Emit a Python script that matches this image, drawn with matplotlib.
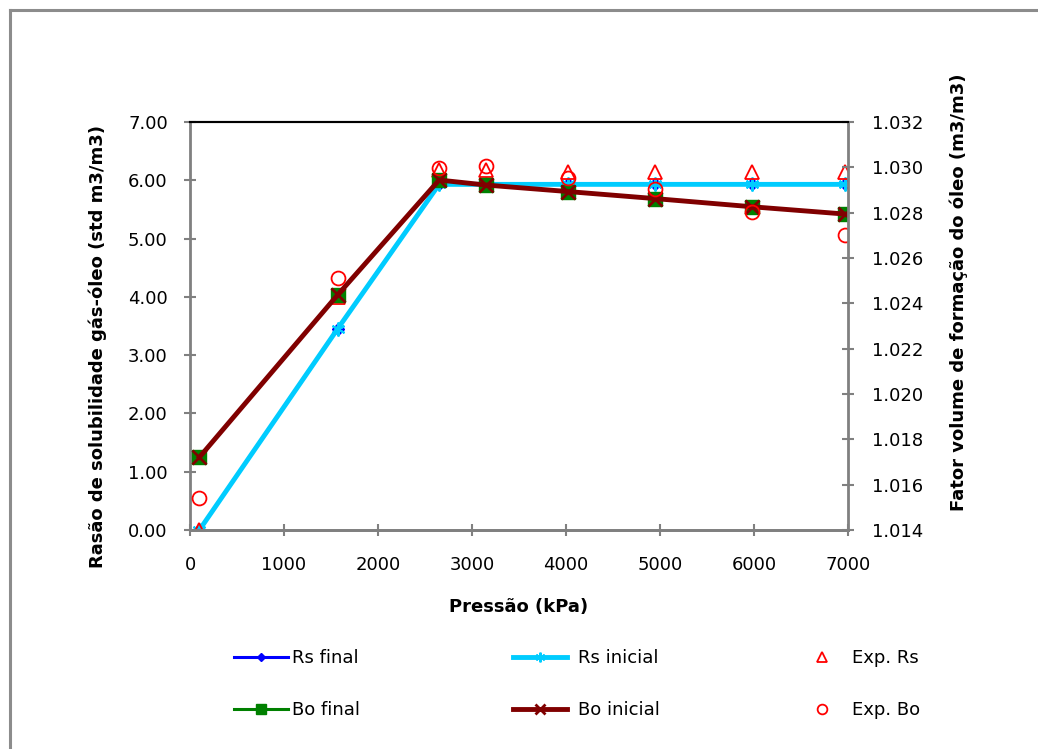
import matplotlib
matplotlib.use("Agg")
import matplotlib.pyplot as plt
from matplotlib.lines import Line2D
from matplotlib.ticker import FormatStrFormatter, MultipleLocator

plt.rcParams['font.family'] = ['DejaVu Sans']
plt.rcParams['font.size'] = 13

# pressure (kPa)
pressao = [100, 1570, 2650, 3145, 4025, 4950, 5980, 6965]

# solubility ratio (std m3/m3)
rs_final = [0.00, 3.45, 5.93, 5.93, 5.93, 5.93, 5.93, 5.93]
rs_inicial = [0.00, 3.45, 5.93, 5.93, 5.93, 5.93, 5.93, 5.93]
exp_rs = [0.00, 4.00, 6.17, 6.17, 6.15, 6.15, 6.15, 6.15]

# oil formation volume factor (m3/m3)
bo_final = [1.01721, 1.02437, 1.02944, 1.02922, 1.02893, 1.02862, 1.02826, 1.02794]
bo_inicial = [1.01721, 1.02437, 1.02944, 1.02922, 1.02893, 1.02862, 1.02826, 1.02794]
exp_bo = [1.01543, 1.02510, 1.02996, 1.03007, 1.02952, 1.02903, 1.02803, 1.02702]

W, H = 1038, 749
fig = plt.figure(figsize=(W / 100, H / 100), dpi=100)

# gray chart-area border (left and top visible)
fig.add_artist(Line2D([9.5 / W, 9.5 / W], [0, 1 - 9.5 / H], transform=fig.transFigure,
                      color='#8c8c8c', lw=2.2))
fig.add_artist(Line2D([9.5 / W, 1], [1 - 9.5 / H, 1 - 9.5 / H], transform=fig.transFigure,
                      color='#8c8c8c', lw=2.2))

ax = fig.add_axes([190 / W, 1 - 530 / H, 658 / W, 408 / H])
ax2 = ax.twinx()

l_rsf, = ax.plot(pressao, rs_final, color='#0000ff', lw=2.2, marker='D', ms=6,
                 label='Rs final', zorder=2)
l_rsi, = ax.plot(pressao, rs_inicial, color='#00ccff', lw=3.5, marker=(6, 2, 0), ms=10,
                 mew=1.5, label='Rs inicial', zorder=2.1)
l_exrs, = ax.plot(pressao, exp_rs, ls='none', marker='^', ms=10, mfc='none', mec='#ff0000',
                  mew=1.3, label='Exp. Rs', zorder=2.2)

l_bof, = ax2.plot(pressao, bo_final, color='#008000', lw=2.2, marker='s', ms=10,
                  label='Bo final', zorder=2)
l_boi, = ax2.plot(pressao, bo_inicial, color='#800000', lw=3.5, marker='x', ms=10, mew=2,
                  label='Bo inicial', zorder=2.1)
l_exbo, = ax2.plot(pressao, exp_bo, ls='none', marker='o', ms=10, mfc='none', mec='#ff0000',
                   mew=1.3, label='Exp. Bo', zorder=2.2)

ax.set_xlim(0, 7000)
ax.set_ylim(0, 7)
ax2.set_ylim(1.014, 1.032)
ax.xaxis.set_major_locator(MultipleLocator(1000))
ax.yaxis.set_major_locator(MultipleLocator(1))
ax2.yaxis.set_major_locator(MultipleLocator(0.002))
ax.yaxis.set_major_formatter(FormatStrFormatter('%.2f'))
ax2.yaxis.set_major_formatter(FormatStrFormatter('%.3f'))

for a in (ax, ax2):
    for s in a.spines.values():
        s.set_color('#808080')
        s.set_linewidth(2)
    a.spines['top'].set_color('black')
    a.spines['top'].set_linewidth(1.5)
    a.tick_params(direction='inout', length=8, width=1.5, color='#808080', labelsize=13,
                  labelcolor='black')
ax2.spines['left'].set_visible(False)
ax.spines['right'].set_visible(False)
ax.tick_params(axis='y', pad=12)
ax.tick_params(axis='x', pad=15)
ax2.tick_params(axis='y', pad=13)

ax.set_xlabel('Pressão (kPa)', fontweight='bold', labelpad=17)
ax.set_ylabel('Rasão de solubilidade gás-óleo (std m3/m3)', fontweight='bold', labelpad=15)
ax2.set_ylabel('Fator volume de formação do óleo (m3/m3)', fontweight='bold', labelpad=19)
ax.yaxis.label.set_y(0.449)
ax2.yaxis.label.set_y(0.583)

# legend in three columns, placed like the original
cols = [([l_rsf, l_bof], 234, 0.22), ([l_rsi, l_boi], 513, 0.6), ([l_exrs, l_exbo], 795, 0.17)]
for handles, x0, pad in cols:
    fig.legend(handles=handles, labels=[h.get_label() for h in handles],
               loc='upper left', bbox_to_anchor=(x0 / W, 1 - 649 / H),
               frameon=False, borderpad=0, borderaxespad=0, handlelength=3.0,
               handletextpad=pad, labelspacing=1.9, fontsize=13, markerscale=0.7)

fig.savefig('out.png', dpi=100)
